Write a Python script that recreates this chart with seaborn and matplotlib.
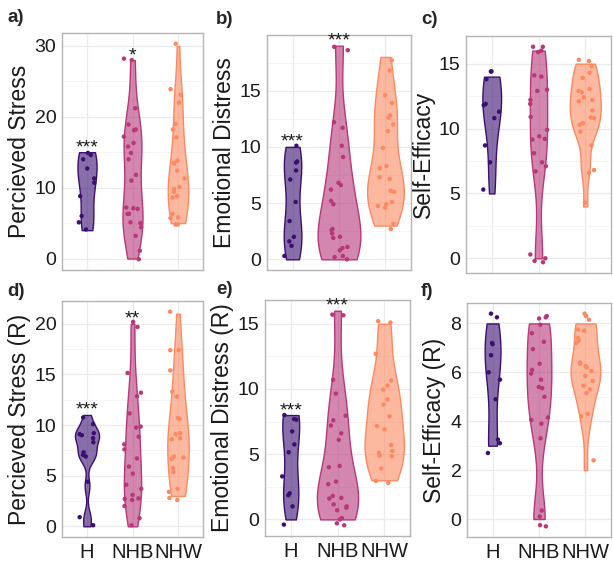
import numpy as np
import pandas as pd
import seaborn as sns
import matplotlib.pyplot as plt
from matplotlib.colors import to_rgba
from matplotlib.ticker import MultipleLocator

groups = ["H", "NHB", "NHW"]
colors = ["#3B0F70", "#B73779", "#FC8961"]

# a) Percieved Stress
stress_h = [14.9, 14.6, 14.0, 12.7, 11.3, 10.7, 8.8, 6.0, 5.1, 4.1]
stress_nhb = [28.2, 28.0, 21.2, 18.9, 18.2, 18.1, 17.2, 16.3, 15.8, 14.9, 14.0, 11.8,
              11.0, 7.2, 7.1, 7.0, 6.3, 6.3, 5.1, 5.0, 4.4, 3.2, 1.1, -0.1]
stress_nhw = [30.3, 23.9, 23.1, 22.0, 19.0, 18.2, 17.1, 13.8, 13.5, 13.4, 12.4, 11.3,
              10.1, 9.8, 9.4, 8.8, 8.6, 6.3, 5.8, 5.7, 4.8, 4.8]

# b) Emotional Distress
distress_h = [10.1, 8.7, 8.6, 7.9, 7.1, 5.1, 3.4, 2.0, 1.6, 1.2, 0.3]
distress_nhb = [18.9, 18.6, 12.2, 11.7, 10.1, 9.1, 6.8, 6.6, 6.2, 5.2, 4.9, 2.7,
                2.6, 2.3, 2.0, 1.9, 1.1, 1.0, 0.8, 0.3, 0.2, 0.0]
distress_nhw = [17.7, 16.8, 14.6, 13.9, 12.8, 12.6, 12.0, 11.4, 9.9, 8.3, 8.1, 7.3,
                7.15, 6.1, 6.0, 5.1, 4.9, 4.75, 4.6, 3.15, 2.7]

# c) Self-Efficacy
efficacy_h = [14.4, 14.4, 13.8, 11.9, 11.8, 11.3, 10.8, 8.7, 7.4, 5.3]
efficacy_nhb = [16.3, 16.3, 16.0, 15.9, 14.1, 14.0, 13.0, 12.9, 12.2, 11.9, 10.9, 9.9,
                9.4, 9.2, 9.15, 8.1, 7.4, 7.1, 6.7, 0.3, 0.0, -0.2, -0.3]
efficacy_nhw = [15.3, 15.2, 14.8, 14.3, 13.9, 13.05, 12.9, 12.8, 12.4, 12.2, 12.1, 11.4,
                10.85, 10.8, 10.4, 10.3, 9.75, 8.7, 6.8, 6.6, 4.3]

# d) Percieved Stress (R)
stress_r_h = [10.75, 10.1, 9.2, 9.1, 9.0, 8.7, 8.3, 7.3, 7.05, 6.9, 4.4, 0.9, 0.1]
stress_r_nhb = [20.2, 19.7, 15.15, 13.2, 12.85, 11.15, 9.85, 9.75, 8.85, 8.1, 7.6, 6.7,
                5.9, 5.2, 4.1, 3.7, 3.1, 2.75, 2.7, 2.6, 2.0, 0.8, 0.1]
stress_r_nhw = [21.2, 17.4, 17.4, 15.4, 13.3, 12.8, 10.7, 10.6, 9.2, 9.1, 8.7, 8.6,
                6.9, 6.8, 6.65, 5.75, 5.35, 3.7, 3.4, 2.8, 2.6]

# e) Emotional Distress (R)
distress_r_h = [8.0, 7.7, 7.65, 6.75, 5.75, 5.15, 3.3, 2.0, 1.85, 1.0, -0.4]
distress_r_nhb = [15.7, 15.65, 10.7, 9.65, 7.95, 7.6, 7.2, 6.6, 6.1, 4.1, 4.0, 2.9,
                  2.7, 1.8, 1.65, 1.6, 1.15, 1.0, 0.9, 0.7, 0.1, 0.0, -0.3, -0.45]
distress_r_nhw = [15.2, 15.1, 12.7, 10.65, 10.25, 9.95, 9.2, 8.8, 7.9, 7.15, 6.9, 5.7,
                  5.25, 5.1, 4.9, 4.85, 3.9, 2.95, 2.8]

# f) Self-Efficacy (R)
efficacy_r_h = [8.4, 8.25, 7.2, 7.15, 6.7, 6.0, 5.7, 4.9, 3.25, 3.1, 2.7]
efficacy_r_nhb = [8.3, 8.25, 8.2, 7.95, 7.6, 7.25, 6.95, 6.35, 6.1, 5.95, 5.7, 5.4,
                  5.35, 5.0, 4.15, 4.05, 3.9, 3.3, 0.35, 0.1, -0.25, -0.3]
efficacy_r_nhw = [8.4, 8.3, 8.15, 7.75, 7.7, 7.4, 7.3, 7.2, 6.4, 6.35, 6.25, 6.2,
                  6.05, 5.85, 5.65, 5.45, 5.3, 5.15, 4.3, 4.2, 2.4]

panels = [
    ("a)", "Percieved Stress", [stress_h, stress_nhb, stress_nhw], 10, {"H": "***", "NHB": "*"}),
    ("b)", "Emotional Distress", [distress_h, distress_nhb, distress_nhw], 5, {"H": "***", "NHB": "***"}),
    ("c)", "Self-Efficacy", [efficacy_h, efficacy_nhb, efficacy_nhw], 5, {}),
    ("d)", "Percieved Stress (R)", [stress_r_h, stress_r_nhb, stress_r_nhw], 5, {"H": "***", "NHB": "**"}),
    ("e)", "Emotional Distress (R)", [distress_r_h, distress_r_nhb, distress_r_nhw], 5, {"H": "***", "NHB": "***"}),
    ("f)", "Self-Efficacy (R)", [efficacy_r_h, efficacy_r_nhb, efficacy_r_nhw], 2, {}),
]

# max violin width per panel / group (fraction of category spacing)
violin_widths = [(0.42, 0.44, 0.45), (0.38, 0.92, 0.79), (0.40, 0.37, 0.66),
                 (0.53, 0.38, 0.47), (0.36, 0.88, 0.84), (0.34, 0.53, 0.64)]

# axes boxes in pixels: left, right, top, bottom ; label position
W, H = 613, 562
boxes = [(62, 203, 33, 270), (267, 411, 35, 270), (466, 611, 36, 273),
         (62, 203, 301, 537), (265, 410, 300, 536), (467, 611, 303, 537)]
letter_pos = [(7, 17), (216, 19), (421, 19), (7, 292), (216, 290), (421, 292)]


def nrd0(kde):
    # R's default bandwidth (bw.nrd0), as used by ggplot's geom_violin
    x = kde.dataset[0]
    sd = x.std(ddof=1)
    iqr = np.subtract(*np.percentile(x, [75, 25]))
    lo = min(sd, iqr / 1.34) if iqr > 0 else sd
    return 0.9 * lo * len(x) ** -0.2 / sd


sns.set_theme(style="white")
plt.rcParams["font.family"] = ["Liberation Sans", "DejaVu Sans"]
np.random.seed(3)

fig = plt.figure(figsize=(W / 100, H / 100), dpi=100)

for i, (letter, ylabel, values, step, stars) in enumerate(panels):
    l, r, t, b = boxes[i]
    ax = fig.add_axes([l / W, 1 - b / H, (r - l) / W, (b - t) / H])

    df = pd.DataFrame({
        "group": np.repeat(groups, [len(v) for v in values]),
        "score": np.concatenate(values),
    })
    df["true"] = df["score"].round()

    for j, g in enumerate(groups):
        n_before = len(ax.collections)
        sns.violinplot(data=df[df["group"] == g], x="group", y="true", order=groups,
                       color=colors[j], cut=0, inner=None, density_norm="width",
                       width=violin_widths[i][j], bw_method=nrd0, linewidth=1, ax=ax)
        for coll in ax.collections[n_before:]:
            coll.set_facecolor(to_rgba(colors[j], 0.6))
            coll.set_edgecolor(colors[j])

    sns.stripplot(data=df, x="group", y="score", hue="group", order=groups,
                  hue_order=groups, palette=colors, jitter=0.2, size=3.2,
                  linewidth=0, legend=False, ax=ax, zorder=3)

    for g, s in stars.items():
        j = groups.index(g)
        top = df.loc[df["group"] == g, "true"].max()
        ax.annotate(s, (j, top), xytext=(0, 0), textcoords="offset points",
                    ha="center", va="baseline", fontsize=14, color="#1a1a1a")

    ax.set_xlim(-0.55, 2.55)
    ax.yaxis.set_major_locator(MultipleLocator(step))
    ax.yaxis.set_minor_locator(MultipleLocator(step / 2))
    ax.set_axisbelow(True)
    ax.grid(True, which="major", color="#EBEBEB", lw=0.9)
    ax.grid(True, which="minor", axis="y", color="#F3F3F3", lw=0.6)
    for sp in ax.spines.values():
        sp.set_color("#B5B5B5")
        sp.set_linewidth(1)
    ax.tick_params(axis="both", which="major", length=2.5, width=0.8, color="#999999",
                   labelcolor="#1a1a1a", pad=1.5)
    ax.tick_params(axis="y", labelsize=14)
    ax.tick_params(axis="x", labelsize=14.5)
    ax.tick_params(which="minor", length=0)
    ax.set_xlabel("")
    ax.set_ylabel(ylabel, fontsize=16.5, color="#1a1a1a", labelpad=3)
    if i < 3:
        ax.set_xticklabels([])

    fig.text(letter_pos[i][0] / W, 1 - letter_pos[i][1] / H, letter,
             fontsize=13.5, fontweight="bold", va="center", ha="left")

fig.savefig("out.png", dpi=100)
